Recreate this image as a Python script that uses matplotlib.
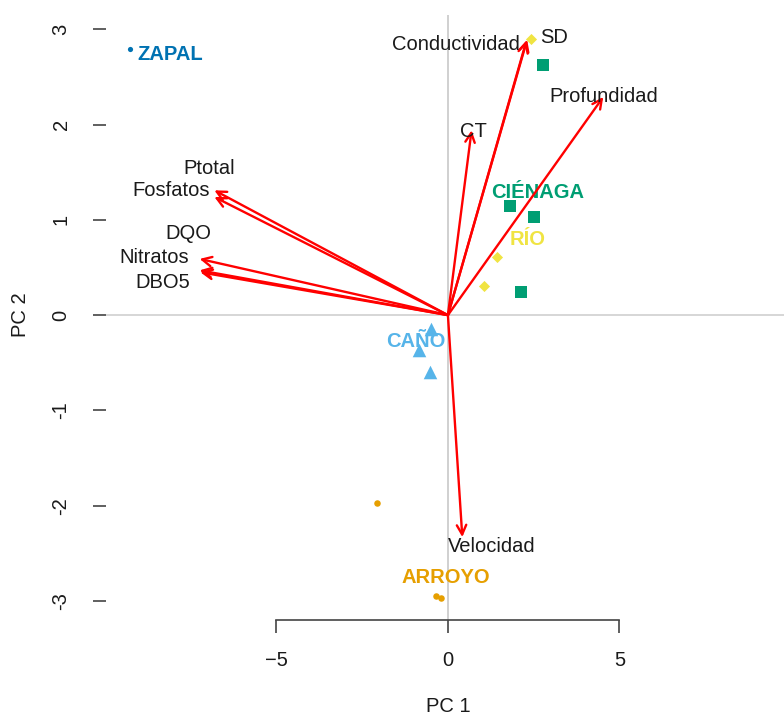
import matplotlib
matplotlib.use("Agg")
import matplotlib.pyplot as plt

plt.rcParams["font.family"] = ["Liberation Sans", "DejaVu Sans"]

# Site scores on the first two principal components, by water body type
groups = ["ZAPAL", "CIÉNAGA", "RÍO", "CAÑO", "ARROYO"]
group_colors = ["#0072B2", "#009E73", "#F0E442", "#56B4E9", "#E69F00"]
group_markers = ["o", "s", "D", "^", "o"]
group_sizes = [14, 75, 32, 95, 22]

zapal_pc1 = [-9.26]
zapal_pc2 = [2.79]
cienaga_pc1 = [2.78, 1.82, 2.52, 2.14]
cienaga_pc2 = [2.62, 1.15, 1.03, 0.24]
rio_pc1 = [2.43, 1.44, 1.06]
rio_pc2 = [2.90, 0.61, 0.31]
cano_pc1 = [-0.48, -0.83, -0.51]
cano_pc2 = [-0.15, -0.37, -0.60]
arroyo_pc1 = [-2.06, -0.34, -0.19]
arroyo_pc2 = [-1.97, -2.95, -2.97]

# Group label positions
group_label_pc1 = [-8.09, 2.61, 2.32, -0.95, -0.07]
group_label_pc2 = [2.74, 1.29, 0.79, -0.28, -2.75]

# Variable loadings (arrow tips)
variables = ["Conductividad", "SD", "CT", "Profundidad", "Ptotal", "Fosfatos",
             "DQO", "Nitratos", "DBO5", "Velocidad"]
load_pc1 = [2.29, 2.31, 0.69, 4.53, -6.81, -6.81, -7.24, -7.24, -7.22, 0.42]
load_pc2 = [2.88, 2.89, 1.94, 2.29, 1.31, 1.24, 0.59, 0.47, 0.45, -2.33]
var_label_pc1 = [0.23, 3.10, 0.74, 4.53, -6.95, -8.06, -7.57, -8.56, -8.32, 1.27]
var_label_pc2 = [2.84, 2.91, 1.93, 2.29, 1.54, 1.31, 0.86, 0.60, 0.34, -2.43]

scores_pc1 = [zapal_pc1, cienaga_pc1, rio_pc1, cano_pc1, arroyo_pc1]
scores_pc2 = [zapal_pc2, cienaga_pc2, rio_pc2, cano_pc2, arroyo_pc2]

fig = plt.figure(figsize=(7.84, 7.15), dpi=100)
ax = fig.add_axes([106 / 784, 1 - 620 / 715, 1 - 106 / 784, (620 - 15) / 715])
ax.set_xlim(-9.97, 9.80)
ax.set_ylim(-3.20, 3.15)

ax.axhline(0, color="#d0d0d0", lw=1.2, zorder=1)
ax.axvline(0, color="#c8c8c8", lw=1.2, zorder=1)

for xs, ys, c, m, s in zip(scores_pc1, scores_pc2, group_colors, group_markers, group_sizes):
    ax.scatter(xs, ys, s=s, c=c, marker=m, linewidths=0, zorder=3)

for name, x, y, c in zip(groups, group_label_pc1, group_label_pc2, group_colors):
    ax.text(x, y, name, color=c, fontsize=14.5, fontweight="bold",
            ha="center", va="center", zorder=4)

for x, y in zip(load_pc1, load_pc2):
    ax.annotate("", xy=(x, y), xytext=(0, 0),
                arrowprops=dict(arrowstyle="->", color="red", lw=1.7,
                                mutation_scale=17, shrinkA=0, shrinkB=0),
                zorder=5)

for name, x, y in zip(variables, var_label_pc1, var_label_pc2):
    ax.text(x, y, name, color="#1a1a1a", fontsize=14.5, ha="center", va="center", zorder=6)

# R-style axes: bottom axis line spans the tick range, no left line
for side in ["top", "right", "left"]:
    ax.spines[side].set_visible(False)
ax.spines["bottom"].set_bounds(-5, 5)
ax.spines["bottom"].set_color("#444444")
ax.spines["bottom"].set_linewidth(1.2)

ax.set_xticks([-5, 0, 5])
ax.set_xticklabels(["\u22125", "0", "5"])
ax.set_yticks([-3, -2, -1, 0, 1, 2, 3])
ax.set_yticklabels(["-3", "-2", "-1", "0", "1", "2", "3"], rotation=90, va="center")
ax.tick_params(axis="x", length=9, width=1.2, color="#444444", pad=13, labelsize=14.5,
               labelcolor="#1a1a1a")
ax.tick_params(axis="y", length=9.5, width=1.2, color="#444444", pad=16, labelsize=14.5,
               labelcolor="#1a1a1a")

fig.text(448 / 784, 1 - 707 / 715, "PC 1", ha="center", va="center", fontsize=14.5,
         color="#1a1a1a")
fig.text(20 / 784, 1 - 315 / 715, "PC 2", ha="center", va="center", fontsize=14.5,
         rotation=90, color="#1a1a1a")

fig.savefig("out.png", dpi=100)
